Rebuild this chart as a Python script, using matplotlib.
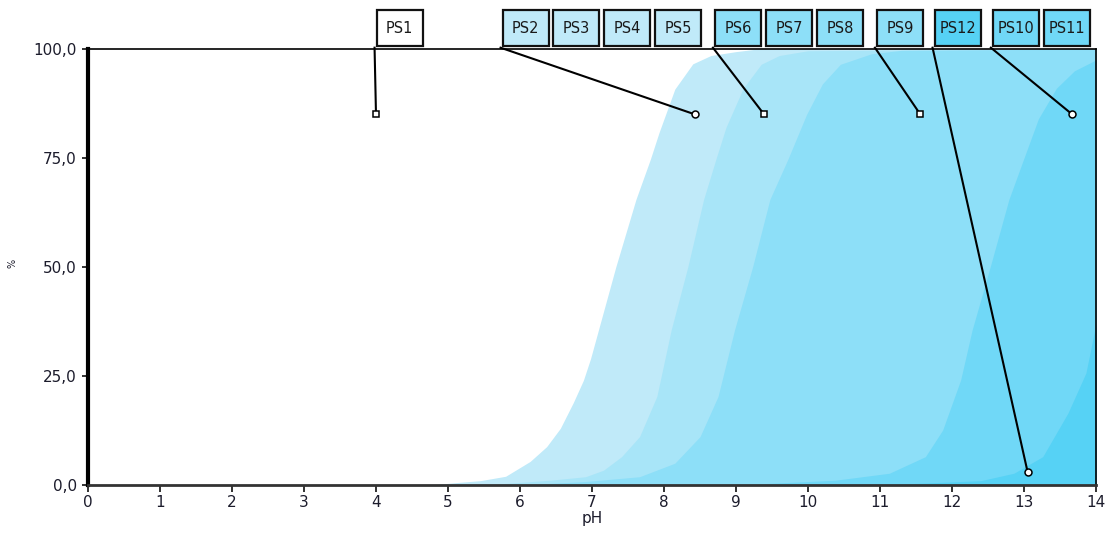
import matplotlib
matplotlib.use('Agg')
import matplotlib.pyplot as plt
from matplotlib.patches import Rectangle
from matplotlib.ticker import FuncFormatter, FixedLocator
import matplotlib.transforms as mtransforms

# ---------------- data ----------------
ph_a = [0, 4.75, 5.15, 5.45, 5.8, 6.14, 6.37, 6.56, 6.74, 6.88, 6.98, 7.09, 7.33, 7.61, 7.81,
        7.93, 8.15, 8.4, 8.65, 9.0, 9.3, 14]
pct_a = [0, 0, 0.6, 1.0, 2.0, 5.4, 8.8, 13, 18.9, 24, 29, 35.6, 50, 65.5, 74.7,
         80.8, 90.8, 96.6, 98.5, 99.4, 100, 100]

ph_b = [0, 5.5, 6.42, 6.91, 7.16, 7.41, 7.66, 7.90, 8.10, 8.33, 8.55, 8.72, 8.86, 9.1, 9.35,
        9.6, 10.0, 14]
pct_b = [0, 0, 1.1, 1.9, 3.4, 6.5, 11.1, 20.3, 35.6, 50, 65.5, 74.7, 82, 91, 96.5,
         98.5, 99.6, 100]

ph_c = [0, 6.0, 6.91, 7.66, 8.15, 8.5, 8.75, 8.98, 9.23, 9.47, 9.72, 9.98, 10.2, 10.45,
        10.88, 11.3, 14]
pct_c = [0, 0, 0.8, 1.9, 5.0, 11.1, 20.3, 35.6, 50, 65.5, 74.7, 85, 92, 96.5,
         98.9, 99.7, 100]

ph_d = [0, 9.0, 10.38, 11.13, 11.63, 11.87, 12.12, 12.28, 12.53, 12.79, 13.0, 13.2, 13.45,
        13.7, 14.0]
pct_d = [0, 0, 1.1, 2.7, 6.5, 12.6, 24.1, 35.6, 50, 65.5, 75, 84, 91, 95, 97.5]

ph_e = [0, 11.0, 12.4, 12.86, 13.26, 13.61, 13.86, 14.0]
pct_e = [0, 0, 1.0, 2.7, 6.5, 16.5, 25.7, 37]

layer_colors = ['#c0eaf9', '#a8e5f8', '#8ddff8', '#70d8f7', '#56d2f5']

species = ['PS1', 'PS2', 'PS3', 'PS4', 'PS5', 'PS6', 'PS7', 'PS8', 'PS9',
           'PS12', 'PS10', 'PS11']
box_colors = ['#ffffff', '#c0eaf9', '#c0eaf9', '#c0eaf9', '#c0eaf9',
              '#8ddff8', '#8ddff8', '#8ddff8', '#8ddff8',
              '#56d2f5', '#70d8f7', '#70d8f7']

marker_species = ['PS1', 'PS2', 'PS6', 'PS9', 'PS12', 'PS10']
marker_ph = [4.0, 8.43, 9.39, 11.56, 13.05, 13.67]
marker_pct = [85, 85, 85, 85, 3, 85]
marker_shape = ['s', 'o', 's', 's', 'o', 'o']

x_ticks = list(range(0, 15))
y_ticks = [0, 25, 50, 75, 100]

# ---------------- layout ----------------
box_left = [4.01, 5.76, 6.46, 7.17, 7.88, 8.71, 9.42, 10.13, 10.96, 11.76, 12.57, 13.28]
box_w = 0.64

fig = plt.figure(figsize=(11.09, 5.38), dpi=100)
ax = fig.add_axes([88 / 1109, 53 / 538, 1008 / 1109, 436 / 538])

for ph, pct, col in zip([ph_a, ph_b, ph_c, ph_d, ph_e],
                        [pct_a, pct_b, pct_c, pct_d, pct_e], layer_colors):
    ax.fill_between(ph, 0, pct, color=col, linewidth=0, zorder=1)

ax.set_xlim(0, 14)
ax.set_ylim(0, 100)
ax.xaxis.set_major_locator(FixedLocator(x_ticks))
ax.yaxis.set_major_locator(FixedLocator(y_ticks))
ax.yaxis.set_major_formatter(FuncFormatter(lambda v, p: f"{v:.1f}".replace('.', ',')))
ax.xaxis.set_major_formatter(FuncFormatter(lambda v, p: f"{int(v)}"))

tick_col = '#1c1c2c'
ax.tick_params(axis='x', direction='out', length=5, width=1.3, colors='#222222',
               labelsize=11, labelcolor=tick_col, pad=2)
ax.tick_params(axis='y', direction='out', length=4, width=1.3, colors='#222222',
               labelsize=11, labelcolor=tick_col, pad=4)

ax.spines['left'].set_linewidth(3)
ax.spines['bottom'].set_linewidth(2)
ax.spines['bottom'].set_color('#333333')
ax.spines['top'].set_linewidth(1.2)
ax.spines['right'].set_linewidth(1.2)
for s in ax.spines.values():
    s.set_zorder(4)

ax.set_xlabel('pH', fontsize=11, color=tick_col, labelpad=1)
fig.text(13 / 1109, 0.51, '%', rotation=90, fontsize=7, color=tick_col,
         ha='center', va='center')

# boxes with labels
trans = mtransforms.blended_transform_factory(ax.transData, ax.transAxes)
box_bottom = 1.006
box_h = 36 / 436
for name, left, col in zip(species, box_left, box_colors):
    r = Rectangle((left, box_bottom), box_w, box_h, transform=trans, facecolor=col,
                  edgecolor='#111111', linewidth=1.6, clip_on=False, zorder=6)
    ax.add_patch(r)
    ax.text(left + box_w / 2, box_bottom + box_h / 2, name, transform=trans,
            ha='center', va='center', fontsize=10.5, color='#1a1a1a', zorder=7,
            clip_on=False)

# leader lines and markers
for name, mx, my, ms in zip(marker_species, marker_ph, marker_pct, marker_shape):
    left = box_left[species.index(name)]
    ax.plot([left - 0.03, mx], [100.3, my], color='black', linewidth=1.5,
            clip_on=False, zorder=5)
    ax.plot([mx], [my], marker=ms, markersize=5, markerfacecolor='white',
            markeredgecolor='black', markeredgewidth=1.1, linestyle='none',
            clip_on=False, zorder=6)

fig.savefig('out.png', dpi=100, facecolor='white')
